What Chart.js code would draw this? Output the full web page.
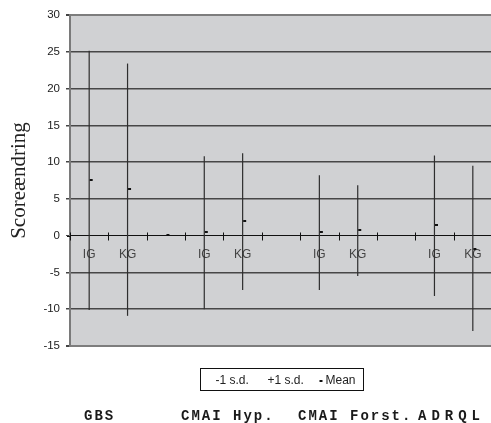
<!DOCTYPE html>
<html>
<head>
<meta charset="utf-8">
<script src="https://cdn.jsdelivr.net/npm/chart.js@4.4.1/dist/chart.umd.min.js"></script>
<style>
  html, body { margin: 0; padding: 0; background: #fff; overflow: hidden; }
  #wrap { width: 497px; height: 423px; }
</style>
</head>
<body>
<div id="wrap"><canvas id="c" width="497" height="423"></canvas></div>
<script>
// Score change per group: IG / KG, mean with -1 / +1 standard deviation
const categories = ['IG', 'KG', '', 'IG', 'KG', '', 'IG', 'KG', '', 'IG', 'KG'];
const lowSD  = [-10.1, -10.9, null, -10.0, -7.4, null, -7.4, -5.5, null, -8.2, -12.95];
const highSD = [25.15, 23.4, null, 10.8, 11.2, null, 8.2, 6.85, null, 10.9, 9.5];
const means  = [7.6, 6.35, 0.1, 0.55, 2.0, null, 0.55, 0.8, null, 1.45, -1.8];
const yTicks = [30, 25, 20, 15, 10, 5, 0, -5, -10, -15];
const groups = ['GBS', 'CMAI Hyp.', 'CMAI Forst.', 'ADRQL'];

// small "close" dash drawn to the right of the high-low line
function makeDash() {
  const c = document.createElement('canvas');
  c.width = 9; c.height = 2;
  const g = c.getContext('2d');
  g.fillStyle = '#111';
  g.fillRect(5, 0, 3, 2);
  return c;
}
const dash = makeDash();

const plotBackground = {
  id: 'plotBackground',
  beforeDraw(chart) {
    const { ctx, chartArea: a } = chart;
    ctx.save();
    ctx.fillStyle = '#d0d1d3';
    ctx.fillRect(a.left, a.top, a.right - a.left, a.bottom - a.top);
    ctx.restore();
  }
};

// tick marks crossing the zero line at category boundaries
const crossTicks = {
  id: 'crossTicks',
  afterDraw(chart) {
    const { ctx, scales: { x, y } } = chart;
    const y0 = Math.round(y.getPixelForValue(0)) + 0.5;
    const half = (x.getPixelForValue(1) - x.getPixelForValue(0)) / 2;
    ctx.save();
    ctx.strokeStyle = '#111';
    ctx.lineWidth = 1;
    ctx.beginPath();
    ctx.moveTo(x.left - 3, y0);
    ctx.lineTo(x.left, y0);
    for (let i = 0; i <= categories.length; i++) {
      const px = Math.round(x.getPixelForValue(0) - half + i * 2 * half) + 0.5;
      ctx.moveTo(px, y0 - 4);
      ctx.lineTo(px, y0 + 4);
    }
    ctx.stroke();
    ctx.restore();
  }
};

// boxed legend under the plot and the group names row
const boxedLegend = {
  id: 'boxedLegend',
  afterDraw(chart) {
    const { ctx, chartArea: a } = chart;
    const cx = (a.left + a.right) / 2;
    const left = Math.round(cx - 81) + 0.5;
    const top = 368.5, w = 163, h = 22;
    ctx.save();
    ctx.strokeStyle = '#111';
    ctx.lineWidth = 1;
    ctx.strokeRect(left, top, w, h);
    ctx.font = '12px "Liberation Sans", Arial, sans-serif';
    ctx.fillStyle = '#222';
    ctx.textBaseline = 'middle';
    const ty = top + h / 2 + 1;
    const items = chart.data.datasets.filter(d => d.type === 'line');
    const offs = [15, 67, 125];
    items.forEach((d, i) => {
      if (d.pointStyle) ctx.drawImage(d.pointStyle, left + offs[i] - 11, ty - 1);
      ctx.fillText(d.label, left + offs[i], ty);
    });

    ctx.font = 'bold 14px "Liberation Mono", "Courier New", monospace';
    ctx.fillStyle = '#1a1a1a';
    ctx.textBaseline = 'alphabetic';
    const gx = [84, 181, 298, 418];
    const gs = ['2px', '2px', '2px', '5px'];
    groups.forEach((g, i) => {
      ctx.letterSpacing = gs[i];
      ctx.fillText(g, gx[i], 420);
    });
    ctx.restore();
  }
};

new Chart(document.getElementById('c'), {
  data: {
    labels: categories,
    datasets: [
      {
        type: 'bar',
        label: 'range',
        data: lowSD.map((l, i) => (l == null ? null : [l, highSD[i]])),
        backgroundColor: '#2e2e2e',
        barThickness: 1.2,
        inflateAmount: 0,
        grouped: false,
        order: 2
      },
      { type: 'line', label: '-1 s.d.', data: lowSD, showLine: false, pointRadius: 0, order: 1 },
      { type: 'line', label: '+1 s.d.', data: highSD, showLine: false, pointRadius: 0, order: 1 },
      { type: 'line', label: 'Mean', data: means, showLine: false, pointStyle: dash, pointRadius: 4, order: 0 }
    ]
  },
  options: {
    responsive: false,
    animation: false,
    events: [],
    layout: { padding: { top: 15, right: 1, bottom: 77, left: 0 } },
    plugins: { legend: { display: false }, tooltip: { enabled: false } },
    scales: {
      x: {
        type: 'category',
        position: { y: 0 },
        offset: true,
        grid: { display: false, drawTicks: false },
        border: { display: true, color: '#111', width: 1 },
        ticks: {
          color: '#444',
          font: { family: '"Liberation Sans", Arial, sans-serif', size: 12 },
          padding: 12,
          autoSkip: false,
          maxRotation: 0
        },
        afterFit(s) { s.height = 0; }
      },
      y: {
        position: 'left',
        min: -15,
        max: 30,
        afterBuildTicks(s) { s.ticks = yTicks.map(v => ({ value: v })); },
        afterFit(s) { s.width = 70; },
        grid: {
          color: c => (c.tick && (c.tick.value === 30 || c.tick.value === -15)) ? '#7d7d7d'
                    : (c.tick && c.tick.value === 0 ? '#111' : '#474747'),
          lineWidth: c => (c.tick && (c.tick.value === 30 || c.tick.value === -15)) ? 2
                    : (c.tick && c.tick.value === 0 ? 1 : 1.5),
          tickColor: '#444',
          tickLength: 4
        },
        border: { display: true, color: '#7a7a7a', width: 2 },
        ticks: {
          color: '#222',
          font: { family: '"Liberation Sans", Arial, sans-serif', size: 11.5 },
          padding: 6
        },
        title: {
          display: true,
          text: 'Scoreændring',
          color: '#222',
          font: { family: '"Liberation Serif", "Times New Roman", serif', size: 21 },
          padding: { top: 7, bottom: 0 }
        }
      }
    }
  },
  plugins: [plotBackground, crossTicks, boxedLegend]
});
</script>
</body>
</html>
